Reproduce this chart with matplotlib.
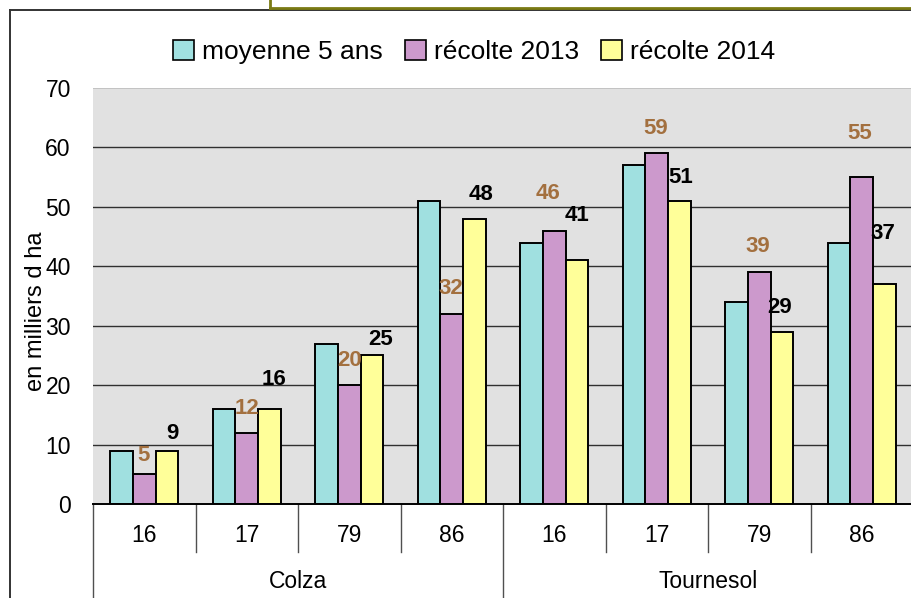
import matplotlib
matplotlib.use("Agg")
import matplotlib.pyplot as plt
from matplotlib.patches import Patch
from matplotlib.lines import Line2D
import numpy as np

plt.rcParams['font.family'] = ['Liberation Sans', 'DejaVu Sans']

# ---- data ----
groups = ["Colza", "Tournesol"]
departements = ["16", "17", "79", "86", "16", "17", "79", "86"]
series_names = ["moyenne 5 ans", "récolte 2013", "récolte 2014"]
moyenne_5_ans = [9, 16, 27, 51, 44, 57, 34, 44]
recolte_2013 = [5, 12, 20, 32, 46, 59, 39, 55]
recolte_2014 = [9, 16, 25, 48, 41, 51, 29, 37]

# label offsets (pixels, from bar top centre) as placed in the original
off_2013 = [(-1, 19), (0, 24), (0, 25), (-1, 25), (-6, 37), (-1, 25), (-1, 26), (-2, 44)]
off_2014 = [(5, 17), (4, 29), (9, 16), (6, 24), (0, 45), (1, 23), (-2, 24), (-2, 51)]

colors = ["#A0E0E0", "#CC99CC", "#FFFF99"]
brown = "#A3703F"

W, H = 911, 598
fig = plt.figure(figsize=(W / 100, H / 100), dpi=100)

# outer frames
fig.add_artist(Line2D([10 / W, 10 / W], [0, 1 - 9.5 / H], transform=fig.transFigure, color="#333333", lw=1.4))
fig.add_artist(Line2D([10 / W, 1], [1 - 9.5 / H, 1 - 9.5 / H], transform=fig.transFigure, color="#333333", lw=1.4))
fig.add_artist(Line2D([270 / W, 270 / W], [1, 1 - 7.5 / H], transform=fig.transFigure, color="#7A7A14", lw=2))
fig.add_artist(Line2D([270 / W, 1], [1 - 7.5 / H, 1 - 7.5 / H], transform=fig.transFigure, color="#7A7A14", lw=2))

ax = fig.add_axes([93 / W, (H - 504) / H, 820 / W, 416 / H])
ax.set_facecolor("#E1E1E1")
n = len(departements)
x = np.arange(n)
bw = 1 / 4.5
for k, (vals, c) in enumerate(zip([moyenne_5_ans, recolte_2013, recolte_2014], colors)):
    ax.bar(x + (k - 1) * bw, vals, width=bw, color=c, edgecolor="black", linewidth=1.4, zorder=3)

for i in range(n):
    ax.annotate(str(recolte_2013[i]), (x[i], recolte_2013[i]), xytext=off_2013[i],
                textcoords="offset pixels", ha="center", va="center",
                fontsize=16, fontweight="bold", color=brown, zorder=4)
    ax.annotate(str(recolte_2014[i]), (x[i] + bw, recolte_2014[i]), xytext=off_2014[i],
                textcoords="offset pixels", ha="center", va="center",
                fontsize=16, fontweight="bold", color="black", zorder=4)

ax.set_xlim(-0.5, n - 0.5)
ax.set_ylim(0, 70)
ax.set_yticks(range(0, 71, 10))
ax.tick_params(axis="y", length=0, pad=16, labelsize=16.5)
for v in range(10, 61, 10):
    ax.axhline(v, color="#303030", lw=1.0, zorder=1)
ax.axhline(70, color="#BEBEBE", lw=1.2, zorder=1)
for s in ["left", "right", "top"]:
    ax.spines[s].set_visible(False)
ax.spines["bottom"].set_color("black")
ax.spines["bottom"].set_linewidth(1.4)
ax.spines["bottom"].set_zorder(5)

# two-level category axis
ax.set_xticks([])
trans = ax.get_xaxis_transform()
px = 1 / 416
for b in np.arange(-0.5, n, 1.0):
    if b in (-0.5, 3.5, n - 0.5):
        ax.plot([b, b], [0, -94 * px], transform=trans, color="#505050", lw=1.0, clip_on=False)
    else:
        ax.plot([b, b], [0, -48 * px], transform=trans, color="#505050", lw=1.0, clip_on=False)
for i, d in enumerate(departements):
    ax.text(x[i], -32 * px, d, transform=trans, ha="center", va="center", fontsize=16.5)
for g, name in enumerate(groups):
    ax.text(1.5 + 4 * g, -77 * px, name, transform=trans, ha="center", va="center", fontsize=16.5)

ax.set_ylabel("en milliers d ha", fontsize=17)
ax.yaxis.set_label_coords((47 - 93) / 820, (504 - 311) / 416)

handles = [Patch(facecolor=c, edgecolor="black", linewidth=1.2) for c in colors]
fig.legend(handles, series_names, loc="center", bbox_to_anchor=(474 / W, 1 - 52 / H),
           ncol=3, frameon=False, fontsize=19, handlelength=0.8, handleheight=0.8,
           handletextpad=0.3, columnspacing=0.85)

fig.savefig("out.png", dpi=100)
